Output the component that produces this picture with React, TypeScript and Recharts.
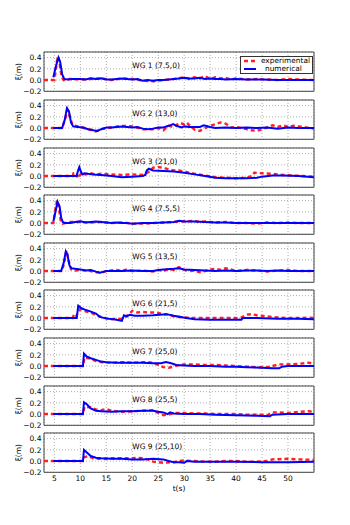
import { LineChart, Line, XAxis, YAxis, CartesianGrid, ReferenceArea, ReferenceDot, Legend } from "recharts";

type Pt = [number, number];

// gauge labels, one per panel
const GAUGES = ["WG 1 (7.5,0)", "WG 2 (13,0)", "WG 3 (21,0)", "WG 4 (7.5,5)", "WG 5 (13,5)", "WG 6 (21,5)", "WG 7 (25,0)", "WG 8 (25,5)", "WG 9 (25,10)"];
const X_TICKS = [5, 10, 15, 20, 25, 30, 35, 40, 45, 50];
const Y_TICKS = [-0.2, 0, 0.2, 0.4];

// [t (s), elevation (m)]
const wg1Exp: Pt[] = [[3, 0], [5, 0], [5.3, 0.2], [5.6, 0.42], [6.0, 0.3], [6.4, 0.05], [6.8, 0], [8, 0.02], [10, 0.01], [12, 0.02], [14, 0.03], [16, 0], [18, 0.03], [20, 0.02], [22, -0.01], [24, -0.02], [26, 0], [28, 0.02], [30, 0.05], [31, 0.02], [32, 0.05], [33, 0.03], [34, 0.07], [35, 0.02], [36, 0.05], [37, 0.03], [38, 0.04], [39, 0.01], [40, 0.03], [42, 0.01], [44, 0.02], [46, 0.01], [48, 0], [50, 0.02], [52, 0.01], [55, 0]];
const wg1Num: Pt[] = [[4.8, 0.05], [5.3, 0.25], [5.8, 0.4], [6.1, 0.33], [6.5, 0.1], [6.9, 0.02], [7.5, 0.01], [8.5, 0.02], [10, 0.02], [11, 0.01], [12, 0.03], [13, 0.02], [14, 0.03], [15, 0.01], [16, 0.01], [17, 0.02], [18, 0.03], [19, 0.02], [20, 0.01], [21, 0.02], [22, -0.01], [23, 0], [24, -0.01], [25, 0], [26, 0], [27, 0.01], [28, 0.02], [29, 0.03], [30, 0.04], [31, 0.03], [32, 0.03], [33, 0.04], [34, 0.02], [35, 0.03], [36, 0.02], [37, 0.02], [38, 0.01], [40, 0.02], [42, 0.01], [45, 0.01], [48, 0], [50, 0], [55, 0]];

const wg2Exp: Pt[] = [[3, 0], [6.5, 0], [7.2, 0.2], [7.5, 0.33], [8, 0.2], [8.5, 0.05], [10, 0.02], [12, -0.03], [13, -0.06], [14, -0.02], [16, 0.01], [18, 0.04], [20, 0.03], [22, -0.02], [24, -0.02], [25, 0], [26, -0.04], [27, 0.04], [28, 0.02], [29, 0.09], [30, 0.07], [30.5, 0.1], [31, 0.05], [32, -0.03], [33, -0.05], [34, 0], [35, 0.04], [36, 0.07], [37, 0.1], [38, 0.08], [39, 0.01], [40, 0.02], [41, 0], [42, -0.02], [43, -0.04], [44, -0.05], [45, -0.02], [46, 0.01], [47, 0.05], [48, 0.02], [49, 0.05], [50, 0.02], [51, 0.04], [52, 0.03], [53, 0.02], [54, 0], [55, -0.01]];
const wg2Num: Pt[] = [[4.8, 0], [6.5, 0], [7.0, 0.15], [7.4, 0.35], [7.8, 0.3], [8.2, 0.1], [8.6, 0.03], [9.5, 0.02], [10.5, 0.01], [11.5, -0.02], [12.5, -0.04], [13.3, -0.05], [14, -0.02], [15, 0.01], [16, 0.01], [17, 0.02], [18, 0.03], [19, 0.02], [20, 0.01], [21, 0.02], [22, -0.01], [23, -0.02], [24, -0.01], [25, 0.01], [26, 0.01], [27, 0.04], [27.9, 0.07], [28.5, 0.04], [29.5, 0.01], [30, 0.03], [31, 0.02], [32, 0.02], [33, 0.02], [33.8, 0.05], [35, 0.02], [36, 0], [38, 0.01], [40, 0], [42, 0.01], [44, 0], [46, 0.01], [48, -0.01], [50, 0.01], [52, 0], [55, 0]];

const wg3Exp: Pt[] = [[3, 0], [8.5, 0], [8.7, 0.05], [9.3, 0.05], [9.5, -0.04], [9.8, 0], [10.3, 0.06], [11, 0.03], [12, 0.05], [13, 0.03], [14, 0.04], [16, 0.03], [18, 0.02], [20, 0.03], [22, 0.02], [22.7, 0.05], [23.5, 0.09], [24, 0.15], [25, 0.16], [26, 0.15], [27, 0.12], [28, 0.1], [29, 0.1], [30, 0.08], [32, 0.04], [34, 0.01], [36, -0.02], [38, -0.03], [40, -0.04], [42, -0.03], [43, 0], [43.5, 0.06], [45, 0.05], [47, 0.04], [49, 0.02], [51, 0.01], [53, 0], [55, -0.01]];
const wg3Num: Pt[] = [[4.8, 0], [9.3, 0], [9.5, 0.08], [9.8, 0.16], [10.1, 0.08], [10.4, 0.03], [10.8, 0.05], [11.5, 0.04], [12.5, 0.03], [14, 0.02], [16, 0], [18, -0.02], [20, -0.01], [22, 0], [22.5, 0.02], [22.8, 0.1], [23.2, 0.13], [24, 0.1], [26, 0.09], [28, 0.08], [30, 0.06], [32, 0.03], [34, 0], [36, -0.03], [38, -0.04], [40, -0.04], [42, -0.04], [44, -0.03], [45, -0.01], [47, 0.01], [49, 0.01], [52, 0], [55, -0.02]];

const wg4Exp: Pt[] = [[3, 0], [4.8, 0], [5.2, 0.25], [5.5, 0.4], [5.9, 0.25], [6.2, 0.05], [6.6, -0.01], [8, 0.02], [10, 0.02], [12, 0.01], [14, 0.02], [16, 0], [18, 0.01], [20, -0.01], [22, -0.01], [24, 0], [26, 0.01], [28, 0.02], [30, 0.03], [32, 0.04], [33, 0.02], [34, 0.03], [36, 0.01], [38, 0.02], [40, 0], [42, 0], [44, -0.01], [46, 0.01], [48, 0], [50, 0.01], [52, 0], [55, 0]];
const wg4Num: Pt[] = [[4.8, 0.03], [5.2, 0.2], [5.6, 0.38], [6.0, 0.3], [6.3, 0.1], [6.6, 0.02], [7, 0], [8, 0], [9, 0.02], [10, 0.03], [11, 0.01], [12, 0.02], [13, 0.03], [14, 0.02], [15, 0.01], [16, 0], [17, 0.01], [18, 0], [19, 0], [20, -0.01], [22, 0], [24, 0], [26, 0.01], [28, 0.02], [29, 0.04], [30, 0.03], [32, 0.03], [34, 0.02], [36, 0.01], [38, 0.01], [40, 0], [45, 0], [50, 0], [55, 0]];

const wg5Exp: Pt[] = [[3, 0], [6.5, 0], [7.0, 0.2], [7.3, 0.37], [7.7, 0.2], [8.2, 0.03], [9, 0.01], [10, 0.02], [11, 0.01], [12, 0], [13, -0.02], [14, -0.03], [15, 0], [17, 0.02], [18, 0], [19, 0.03], [20, 0], [22, 0.01], [24, -0.01], [25, 0.02], [26, 0], [27, 0.04], [28, 0.02], [29, 0.07], [30, 0.02], [31, 0], [32, 0.01], [33, -0.02], [34, 0], [35, 0.03], [36, 0.04], [37, 0.02], [38, 0.05], [39, 0.03], [40, 0], [42, 0.02], [44, 0.01], [46, -0.01], [48, 0.01], [50, 0.02], [52, 0], [55, 0]];
const wg5Num: Pt[] = [[4.8, 0], [6.3, 0], [6.8, 0.15], [7.2, 0.35], [7.5, 0.3], [7.9, 0.1], [8.3, 0.05], [9, 0.04], [10, 0.03], [11, 0.01], [12, 0.02], [13, -0.01], [13.8, -0.03], [14.5, -0.01], [15, 0], [16, 0], [18, 0], [20, 0.01], [22, 0], [24, 0], [25, 0.02], [26, 0.03], [28, 0.04], [29, 0.05], [30, 0.03], [32, 0.02], [34, 0.01], [36, 0], [38, 0.01], [40, 0], [42, 0.01], [44, 0.01], [46, 0], [48, 0.01], [50, 0], [55, 0]];

const wg6Exp: Pt[] = [[3, 0], [8.5, 0], [8.8, 0.07], [9.2, 0.03], [9.5, 0.1], [10, 0.16], [11, 0.12], [12, 0.1], [13, 0.05], [14, 0.02], [15, 0], [16, -0.02], [18, -0.01], [18.8, 0.03], [19.5, 0.08], [20, 0.13], [21, 0.1], [22, 0.11], [23, 0.1], [24, 0.1], [25, 0.09], [26, 0.07], [27, 0.06], [28, 0.03], [30, 0.01], [32, 0], [34, 0], [36, 0], [38, 0], [40, 0], [41, 0.01], [42, 0.06], [43, 0.07], [44, 0.05], [46, 0.03], [48, 0.01], [50, 0], [52, 0], [54, 0.01], [55, 0]];
const wg6Num: Pt[] = [[4.8, 0], [9.3, 0], [9.6, 0.22], [10.3, 0.17], [10.9, 0.15], [11.9, 0.12], [13, 0.08], [13.8, 0.02], [15, -0.01], [16.5, -0.02], [18, -0.05], [18.4, 0.05], [19, 0.03], [19.5, 0.06], [20.5, 0.04], [22, 0.04], [24, 0.05], [26.6, 0.07], [28, 0.04], [30.4, 0], [32, -0.02], [35, -0.03], [39.4, -0.03], [41, -0.03], [41.3, 0], [44, 0], [48, -0.01], [52, -0.01], [55, -0.02]];

const wg7Exp: Pt[] = [[3, 0], [10.5, 0], [10.8, 0.15], [12, 0.13], [13, 0.09], [14, 0.07], [16, 0.06], [18, 0.07], [20, 0.06], [22, 0.07], [23, 0.07], [24, 0.06], [25, 0.02], [26, -0.02], [27, -0.03], [28, -0.01], [29, 0.02], [30, 0.03], [32, 0.03], [34, 0.02], [36, 0.02], [38, 0.01], [40, 0], [42, -0.01], [44, -0.02], [46, -0.02], [47, 0], [48, 0.03], [50, 0.03], [52, 0.04], [54, 0.06], [55, 0.04]];
const wg7Num: Pt[] = [[4.8, 0], [10.5, 0], [10.7, 0.22], [11.2, 0.17], [12, 0.14], [13, 0.11], [14, 0.08], [15, 0.07], [17, 0.06], [20, 0.06], [22, 0.06], [24, 0.05], [25.5, 0.05], [26.5, 0.07], [27.5, 0.05], [28.5, 0.02], [30, 0.01], [32, 0], [35, 0], [38, -0.01], [40, -0.01], [42, -0.02], [45, -0.03], [47, -0.04], [48.3, -0.04], [48.8, -0.01], [50, 0], [53, 0], [55, 0]];

const wg8Exp: Pt[] = [[3, 0], [10.5, 0], [10.8, 0.13], [12, 0.12], [13, 0.08], [14, 0.07], [15, 0.09], [16, 0.06], [18, 0.04], [20, 0.05], [22, 0.06], [24, 0.07], [25, 0.02], [26, -0.02], [27, -0.01], [28, 0.02], [30, 0.02], [32, 0.01], [34, 0.01], [36, 0], [38, 0], [40, 0], [42, -0.01], [44, -0.01], [46, -0.02], [47, 0.03], [48, 0.03], [50, 0.02], [52, 0.04], [54, 0.05], [55, 0.04]];
const wg8Num: Pt[] = [[4.8, 0], [10.5, 0], [10.7, 0.21], [11.3, 0.17], [12, 0.1], [13, 0.06], [14, 0.05], [16, 0.04], [18, 0.05], [20, 0.05], [22, 0.06], [24, 0.06], [25, 0.04], [26, 0.03], [26.8, 0], [27.3, 0.03], [28, 0.01], [30, 0], [33, 0], [36, -0.01], [40, -0.02], [44, -0.03], [46.5, -0.04], [47, -0.01], [50, 0], [55, 0]];

const wg9Exp: Pt[] = [[3, 0], [10.5, 0], [10.8, 0.07], [11.5, 0.09], [12.5, 0.05], [14, 0.04], [16, 0.05], [18, 0.05], [20, 0.05], [21, 0.06], [22, 0.05], [23, 0.03], [24, -0.01], [26, -0.03], [28, -0.02], [29, 0], [30, 0.01], [32, 0], [34, -0.01], [36, -0.01], [38, 0], [40, 0], [42, -0.01], [44, -0.01], [46, 0], [47, 0.03], [50, 0.04], [52, 0.03], [55, 0.02]];
const wg9Num: Pt[] = [[4.8, 0], [10.5, 0], [10.7, 0.2], [11.3, 0.15], [12, 0.09], [13, 0.06], [14, 0.05], [16, 0.04], [18, 0.04], [20, 0.03], [22, 0.03], [24, 0.04], [26, 0.03], [27, 0], [28, -0.02], [29, -0.02], [30, -0.03], [30.5, 0], [32, -0.01], [35, -0.01], [40, -0.01], [45, -0.02], [50, -0.02], [55, -0.01]];

const EXP = [wg1Exp, wg2Exp, wg3Exp, wg4Exp, wg5Exp, wg6Exp, wg7Exp, wg8Exp, wg9Exp];
const NUM = [wg1Num, wg2Num, wg3Num, wg4Num, wg5Num, wg6Num, wg7Num, wg8Num, wg9Num];

const FONT = "'DejaVu Sans', sans-serif";
const PANEL_TOP = 52.3;
const PANEL_STEP = 47.6;
const PANEL_H = 39.3;
const AXIS_W = 44;
const PLOT_W = 270;
const XAXIS_H = 22;
const PAD_T = 3; // room so the frame and top tick text are not clipped
const PAD_B = 5; // room for the -0.2 tick text under the frame

const toRows = (pts: Pt[]) => pts.map(([t, v]) => ({ t, v }));
const fmtY = (v: number) => (v < 0 ? "\u2212" + Math.abs(v).toFixed(1) : v.toFixed(1));
const NoTick = () => <g />;

function LegendBox({ payload }: any) {
  return (
    <div style={{ border: "1px solid #333", background: "#fff", padding: "0 2px", fontFamily: FONT, fontSize: 7.4, lineHeight: "7.8px" }}>
      {(payload ?? []).map((p: any) => (
        <div key={p.value} style={{ display: "flex", alignItems: "center", height: 7.8 }}>
          <svg width={18} height={6} style={{ marginRight: 4 }}>
            <line x1={1} y1={3} x2={13} y2={3} stroke={p.color} strokeWidth={p.value === "numerical" ? 2 : 2.4} strokeDasharray={p.value === "numerical" ? undefined : "4 3"} />
          </svg>
          <span>{p.value}</span>
        </div>
      ))}
    </div>
  );
}

function Panel({ idx }: { idx: number }) {
  const last = idx === GAUGES.length - 1;
  const xh = last ? XAXIS_H : 1;
  const padB = last ? 1 : PAD_B;
  const h = PAD_T + PANEL_H + xh + padB;
  return (
    <div style={{ position: "absolute", left: 0, top: PANEL_TOP + idx * PANEL_STEP - PAD_T }}>
      <LineChart width={AXIS_W + PLOT_W + 3} height={h} margin={{ top: PAD_T, right: 3, bottom: padB, left: 0 }}>
        <CartesianGrid stroke="#999" strokeDasharray="1 2" strokeWidth={0.8} />
        <XAxis
          dataKey="t"
          type="number"
          domain={[3, 55]}
          ticks={X_TICKS}
          interval={0}
          allowDataOverflow
          height={xh}
          axisLine={false}
          tickLine={false}
          tickSize={0}
          tickMargin={3}
          tick={last ? { fill: "#000", fontSize: 7.5, fontFamily: FONT } : NoTick}
          label={last ? { value: "t(s)", position: "insideBottom", offset: 3, fill: "#000", fontSize: 7.5, fontFamily: FONT } : undefined}
        />
        <YAxis
          type="number"
          domain={[-0.2, 0.5]}
          ticks={Y_TICKS}
          interval={0}
          allowDataOverflow
          width={AXIS_W}
          axisLine={false}
          tickLine={false}
          tickSize={0}
          tickMargin={2.5}
          tickFormatter={fmtY}
          tick={{ fill: "#000", fontSize: 7.5, fontFamily: FONT }}
          label={{ value: "\u03be(m)", angle: -90, position: "insideLeft", offset: 18, fill: "#000", fontSize: 7.5, fontFamily: FONT, style: { textAnchor: "middle" } }}
        />
        <Line data={toRows(EXP[idx])} dataKey="v" name="experimental" stroke="#ff2020" strokeWidth={2.4} strokeDasharray="4 3" dot={false} isAnimationActive={false} />
        <Line data={toRows(NUM[idx])} dataKey="v" name="numerical" stroke="#0000ff" strokeWidth={2} dot={false} isAnimationActive={false} />
        <ReferenceDot x={20} y={0.27} r={0} fill="none" stroke="none" label={{ value: GAUGES[idx], position: "right", offset: 0, fill: "#000", fontSize: 7.5, fontFamily: FONT }} />
        <ReferenceArea x1={3} x2={55} y1={-0.2} y2={0.5} fill="none" stroke="#444" strokeWidth={1} />
        {idx === 0 && (
          <Legend layout="vertical" align="center" verticalAlign="middle" content={<LegendBox />} wrapperStyle={{ position: "absolute", left: 240, top: 3.7 + PAD_T, width: 73 }} />
        )}
      </LineChart>
    </div>
  );
}

export default function App() {
  return (
    <div style={{ position: "absolute", left: 0, top: 0, width: 350, height: 525, background: "#fff" }}>
      {GAUGES.map((_, i) => (
        <Panel key={i} idx={i} />
      ))}
    </div>
  );
}
